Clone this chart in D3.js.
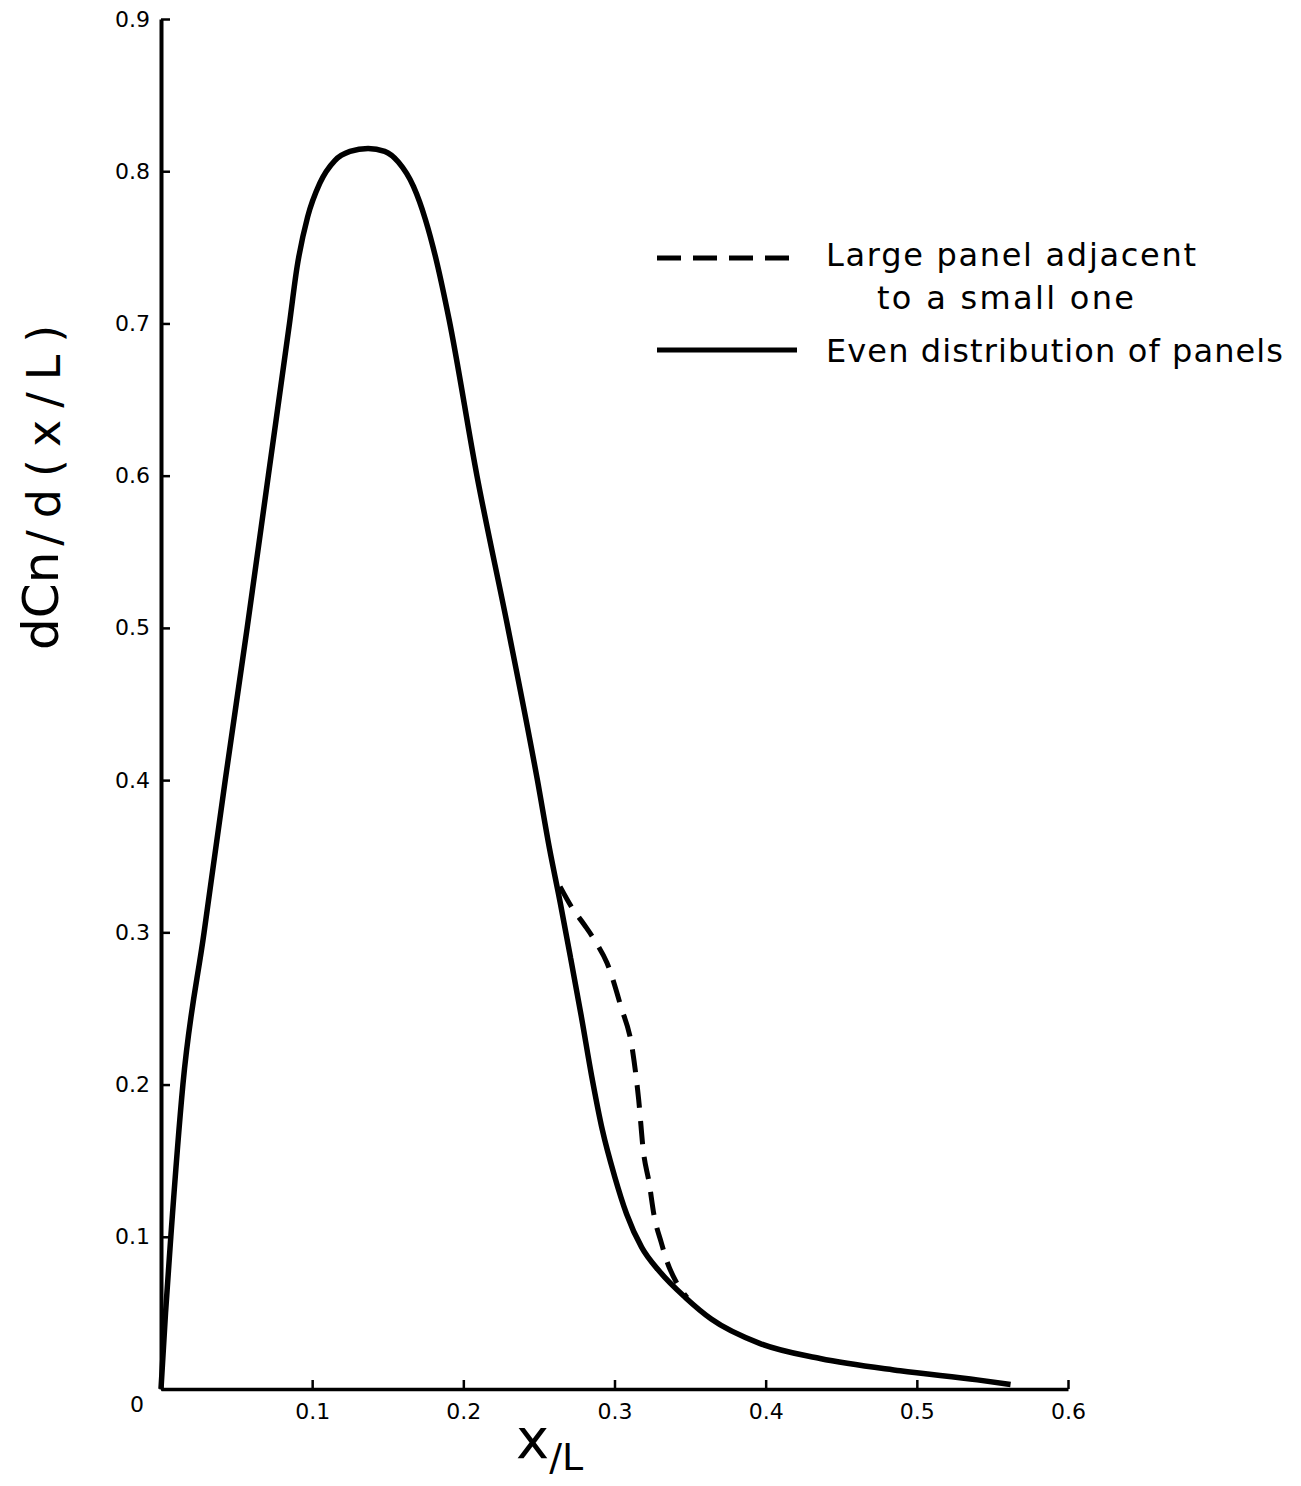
<!DOCTYPE html>
<html>
<head>
<meta charset="utf-8">
<script src="https://cdn.jsdelivr.net/npm/d3@7"></script>
<style>
  body { margin: 0; background: #fff; }
  text { font-family: "DejaVu Sans", sans-serif; fill: #000; }
</style>
</head>
<body>
<div id="chart-area"></div>
<script>
// tick values
const xTicks = [0.1, 0.2, 0.3, 0.4, 0.5, 0.6]
const yTicks = [0, 0.1, 0.2, 0.3, 0.4, 0.5, 0.6, 0.7, 0.8, 0.9]

// even distribution of panels (solid)
const evenX = [0, 0.003, 0.0065, 0.0145, 0.0285, 0.0425, 0.057, 0.071, 0.085, 0.090, 0.097, 0.105, 0.115,
  0.125, 0.137, 0.148, 0.157, 0.167, 0.175, 0.1825, 0.1905, 0.209, 0.2295, 0.249, 0.257, 0.264, 0.271,
  0.278, 0.285, 0.292, 0.300, 0.308, 0.318, 0.330, 0.347, 0.364, 0.396, 0.436, 0.489, 0.540, 0.562]
const evenY = [0, 0.05, 0.1, 0.2, 0.3, 0.4, 0.5, 0.6, 0.7, 0.737, 0.770, 0.792, 0.807,
  0.813, 0.815, 0.813, 0.806, 0.790, 0.768, 0.740, 0.703, 0.600, 0.500, 0.400, 0.355, 0.320, 0.283,
  0.245, 0.205, 0.170, 0.140, 0.115, 0.093, 0.077, 0.060, 0.046, 0.030, 0.020, 0.012, 0.006, 0.003]

// large panel adjacent to a small one (dashed)
const largeX = [0.264, 0.272, 0.280, 0.288, 0.295, 0.304, 0.312, 0.316, 0.319, 0.323, 0.326, 0.331, 0.335, 0.341, 0.348]
const largeY = [0.330, 0.316, 0.305, 0.293, 0.280, 0.252, 0.222, 0.190, 0.157, 0.135, 0.115, 0.096, 0.083, 0.070, 0.060]

const WIDTH = 1301
const HEIGHT = 1486
const X0 = 161, X1 = 1068
const Y0 = 1389, Y1 = 19

const svg = d3.select("#chart-area").append("svg")
  .attr("width", WIDTH)
  .attr("height", HEIGHT)

const x = d3.scaleLinear().domain([0, 0.6]).range([X0, X1])
const y = d3.scaleLinear().domain([0, 0.9]).range([Y0, Y1])

// Y axis
const yAxis = svg.append("g")
  .attr("transform", `translate(${X0}, 0)`)
  .call(d3.axisLeft(y)
    .tickValues(yTicks)
    .tickSizeInner(-9)
    .tickSizeOuter(0)
    .tickPadding(11)
    .tickFormat(d => d === 0 ? "0" : d3.format(".1f")(d)))
yAxis.select(".domain").attr("stroke-width", 4)
yAxis.selectAll(".tick line").attr("stroke-width", 2.5)
yAxis.selectAll("text").attr("font-size", "22px").attr("fill", "#000")
yAxis.selectAll(".tick").filter(d => d === 0).select("text")
  .attr("x", -17).attr("dy", "1.0em")

// X axis
const xAxis = svg.append("g")
  .attr("transform", `translate(0, ${Y0})`)
  .call(d3.axisBottom(x)
    .tickValues(xTicks)
    .tickSizeInner(-9)
    .tickSizeOuter(0)
    .tickPadding(14)
    .tickFormat(d3.format(".1f")))
xAxis.select(".domain").attr("stroke-width", 3.5)
xAxis.selectAll(".tick line").attr("stroke-width", 2.5)
xAxis.selectAll("text").attr("font-size", "22px").attr("fill", "#000")

// curves
const line = d3.line()
  .x(d => x(d[0]))
  .y(d => y(d[1]))
  .curve(d3.curveMonotoneX)

svg.append("path")
  .datum(evenX.map((v, i) => [v, evenY[i]]))
  .attr("fill", "none")
  .attr("stroke", "#000")
  .attr("stroke-width", 5.5)
  .attr("stroke-linejoin", "round")
  .attr("d", line)

svg.append("path")
  .datum(largeX.map((v, i) => [v, largeY[i]]))
  .attr("fill", "none")
  .attr("stroke", "#000")
  .attr("stroke-width", 5)
  .attr("stroke-dasharray", "23,13")
  .attr("d", line)

// legend
const legend = svg.append("g")
legend.append("line")
  .attr("x1", 657).attr("x2", 795).attr("y1", 258).attr("y2", 258)
  .attr("stroke", "#000").attr("stroke-width", 5)
  .attr("stroke-dasharray", "24,12")
legend.append("text")
  .attr("x", 826).attr("y", 266)
  .attr("font-size", "32px")
  .attr("textLength", 370).attr("lengthAdjust", "spacing")
  .text("Large panel adjacent")
legend.append("text")
  .attr("x", 877).attr("y", 309)
  .attr("font-size", "32px")
  .attr("textLength", 257).attr("lengthAdjust", "spacing")
  .text("to a small one")
legend.append("line")
  .attr("x1", 657).attr("x2", 797).attr("y1", 350).attr("y2", 350)
  .attr("stroke", "#000").attr("stroke-width", 5)
legend.append("text")
  .attr("x", 826).attr("y", 362)
  .attr("font-size", "32px")
  .attr("textLength", 457).attr("lengthAdjust", "spacing")
  .text("Even distribution of panels")

// Y label
const yLabel = svg.append("text")
  .attr("transform", "translate(58, 650) rotate(-90)")
  .attr("text-anchor", "start")
yLabel.append("tspan").attr("font-size", "50px").text("dCn")
yLabel.append("tspan").attr("font-size", "46px").attr("dy", 2).attr("dx", 6)
  .attr("letter-spacing", "12px").text("/d(x/L)")

// X label
const xLabel = svg.append("text")
  .attr("x", 516).attr("y", 1458)
xLabel.append("tspan").attr("font-size", "56px").text("x")
xLabel.append("tspan").attr("font-size", "38px").attr("dy", 12).text("/L")
</script>
</body>
</html>
